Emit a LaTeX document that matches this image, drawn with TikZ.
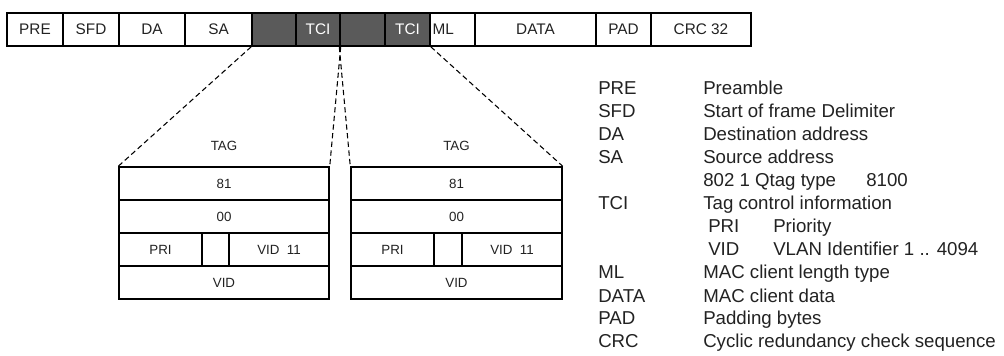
\documentclass[tikz,border=0pt]{standalone}
\usepackage{fontspec}
\setmainfont{Liberation Sans}
\definecolor{darkcell}{HTML}{5A5A5A}
\definecolor{txt}{HTML}{222222}
\begin{document}
\begin{tikzpicture}[x=0.75pt,y=-0.75pt,
  cell/.style={draw=black, line width=1.1pt, fill=white, inner sep=0pt, minimum height=33*0.75pt, font=\fontsize{11.5}{13}\selectfont, text=txt},
  darkcell/.style={cell, fill=darkcell, text=white},
  sub/.style={draw=black, line width=1.1pt, fill=white, inner sep=0pt, minimum height=33*0.75pt, font=\fontsize{10}{12}\selectfont, text=txt},
  taglbl/.style={inner sep=0pt, font=\fontsize{10}{12}\selectfont, text=txt},
  leg/.style={anchor=base west, inner sep=0pt, font=\fontsize{14}{16}\selectfont, text=txt},
  zoomline/.style={dashed, line width=0.8pt, dash pattern=on 4pt off 2.5pt}
]
\useasboundingbox (0,0) rectangle (1004,356);
% top frame
\node[cell, minimum width=56*0.75pt] (pre) at (35,29.5) {PRE};
\node[cell, minimum width=56*0.75pt] (sfd) at (91,29.5) {SFD};
\node[cell, minimum width=66*0.75pt] (da) at (152,29.5) {DA};
\node[cell, minimum width=67*0.75pt] (sa) at (218.5,29.5) {SA};
\node[darkcell, minimum width=44*0.75pt] (t1) at (274,29.5) {};
\node[darkcell, minimum width=44*0.75pt] (tci1) at (318,29.5) {TCI};
\node[darkcell, minimum width=45*0.75pt] (t2) at (362.5,29.5) {};
\node[darkcell, minimum width=45*0.75pt] (tci2) at (407.5,29.5) {TCI};
\node[cell, minimum width=45*0.75pt, text width=40*0.75pt, align=left] (ml) at (452.5,29.5) {ML};
\node[cell, minimum width=121*0.75pt] (data) at (535.5,29.5) {DATA};
\node[cell, minimum width=55*0.75pt] (pad) at (623.5,29.5) {PAD};
\node[cell, minimum width=100*0.75pt] (crc) at (701,29.5) {CRC 32};
% left tag
\node[taglbl] (tagL) at (224,146) {TAG};
\node[sub, minimum width=210*0.75pt] (l81) at (224,183.5) {81};
\node[sub, minimum width=210*0.75pt] (l00) at (224,216.5) {00};
\node[sub, minimum width=83*0.75pt] (lpri) at (160.5,249.5) {PRI};
\node[sub, minimum width=27*0.75pt] (lcfi) at (215.5,249.5) {};
\node[sub, minimum width=100*0.75pt] (lvid1) at (279,249.5) {VID\ \ 11};
\node[sub, minimum width=210*0.75pt] (lvid) at (224,282.5) {VID};
% right tag
\node[taglbl] (tagR) at (456.5,146) {TAG};
\node[sub, minimum width=211*0.75pt] (r81) at (456.5,183.5) {81};
\node[sub, minimum width=211*0.75pt] (r00) at (456.5,216.5) {00};
\node[sub, minimum width=83*0.75pt] (rpri) at (392.5,249.5) {PRI};
\node[sub, minimum width=28*0.75pt] (rcfi) at (448,249.5) {};
\node[sub, minimum width=100*0.75pt] (rvid1) at (512,249.5) {VID\ \ 11};
\node[sub, minimum width=211*0.75pt] (rvid) at (456.5,282.5) {VID};
% zoom lines
\draw[zoomline] (t1.south west) -- (l81.north west);
\draw[zoomline] (tci1.south east) -- (l81.north east);
\draw[zoomline] (t2.south west) -- (r81.north west);
\draw[zoomline] (tci2.south east) -- (r81.north east);
% legend
\node[leg] (k1) at (598,95) {PRE};   \node[leg] (d1) at (703,95) {Preamble};
\node[leg] (k2) at (598,118) {SFD};  \node[leg] (d2) at (703,118) {Start of frame Delimiter};
\node[leg] (k3) at (598,141) {DA};   \node[leg] (d3) at (703,141) {Destination address};
\node[leg] (k4) at (598,164) {SA};   \node[leg] (d4) at (703,164) {Source address};
\node[leg] (d5) at (703,187) {802 1 Qtag type};
\node[leg] (d5b) at (866,187) {8100};
\node[leg] (k6) at (598,210) {TCI};  \node[leg] (d6) at (703,210) {Tag control information};
\node[leg] (k7) at (708,233) {PRI};  \node[leg] (d7) at (773,233) {Priority};
\node[leg] (k8) at (708,256) {VID};  \node[leg] (d8) at (773,256) {VLAN Identifier 1 .. 4094};
\node[leg] (k9) at (598,279) {ML};   \node[leg] (d9) at (703,279) {MAC client length type};
\node[leg] (k10) at (598,302) {DATA};\node[leg] (d10) at (703,302) {MAC client data};
\node[leg] (k11) at (598,325) {PAD}; \node[leg] (d11) at (703,325) {Padding bytes};
\node[leg] (k12) at (598,348) {CRC}; \node[leg] (d12) at (703,348) {Cyclic redundancy check sequence};
\end{tikzpicture}
\end{document}
